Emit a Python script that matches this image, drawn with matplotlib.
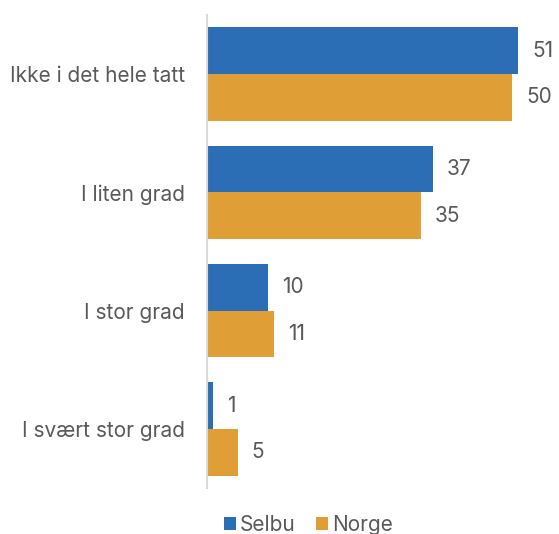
import matplotlib
matplotlib.use("Agg")
import matplotlib.pyplot as plt
import numpy as np

categories = ["Ikke i det hele tatt", "I liten grad", "I stor grad", "I svært stor grad"]
selbu = [51, 37, 10, 1]
norge = [50, 35, 11, 5]
series_names = ["Selbu", "Norge"]

blue = "#2C6EB5"
orange = "#E09E37"
text_color = "#595959"

plt.rcParams["font.family"] = ["Inter", "DejaVu Sans"]

fig = plt.figure(figsize=(5.59, 5.34), dpi=100)
ax = fig.add_axes([207 / 559, 46 / 534, 345 / 559, 473 / 534])

y = np.arange(len(categories))
h = 0.395
b1 = ax.barh(y - h / 2, selbu, height=h, color=blue, label=series_names[0])
b2 = ax.barh(y + h / 2, norge, height=h, color=orange, label=series_names[1])

for bars, vals in ((b1, selbu), (b2, norge)):
    for rect, v in zip(bars, vals):
        ax.text(rect.get_width() + 2.3, rect.get_y() + rect.get_height() / 2, f"{v}",
                va="center", ha="left", fontsize=15, color=text_color)

ax.set_ylim(len(categories) - 0.5, -0.5)
ax.set_xlim(0, 56.5)
ax.set_yticks(y)
ax.set_yticklabels(categories, fontsize=15, color=text_color)
ax.tick_params(axis="y", length=0, pad=16)
ax.set_xticks([])
for s in ("top", "right", "bottom"):
    ax.spines[s].set_visible(False)
ax.spines["left"].set_color("#D9D9D9")
ax.spines["left"].set_linewidth(1.5)

leg = fig.legend(handles=[b1, b2], labels=series_names, loc="lower center",
                 bbox_to_anchor=(0.552, -0.037), ncol=2, frameon=False,
                 fontsize=15, handlelength=0.55, handleheight=0.55,
                 handletextpad=0.2, columnspacing=1.0)
for t in leg.get_texts():
    t.set_color(text_color)

fig.savefig("out.png", dpi=100)
